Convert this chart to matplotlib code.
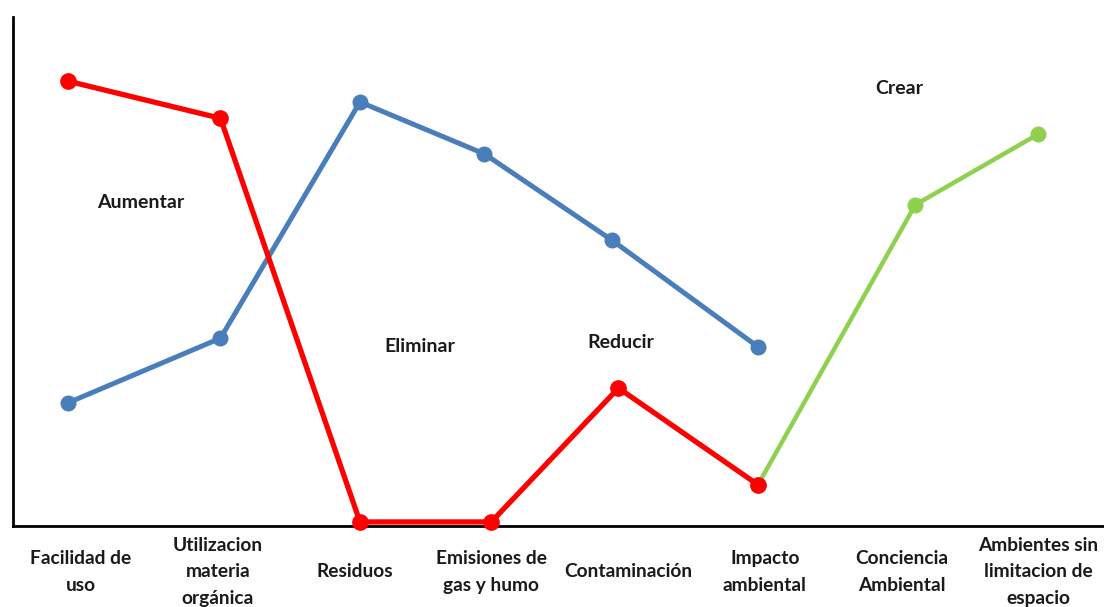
import matplotlib.pyplot as plt

# categories (evenly spaced tick positions 0..7)
categories = ["Facilidad de\nuso", "Utilizacion\nmateria\norgánica", "Residuos",
              "Emisiones de\ngas y humo", "Contaminación", "Impacto\nambiental",
              "Conciencia\nAmbiental", "Ambientes sin\nlimitacion de\nespacio"]

# series values (x in category units, y on a 0-10 scale)
red_x = [-0.095, 1.02, 2.04, 3.0, 3.93, 4.95]
red_y = [8.74, 8.01, 0.08, 0.08, 2.71, 0.81]

blue_x = [-0.095, 1.02, 2.04, 2.95, 3.88, 4.95]
blue_y = [2.42, 3.69, 8.33, 7.31, 5.62, 3.52]

green_x = [4.95, 6.10, 7.0]
green_y = [0.81, 6.31, 7.70]

labels = ["Aumentar", "Eliminar", "Reducir", "Crear"]
label_x = [0.44, 2.48, 3.95, 5.98]
label_y = [6.36, 3.52, 3.60, 8.60]


def main():
    plt.rcParams['font.family'] = ['Lato', 'DejaVu Sans']
    fig = plt.figure(figsize=(11.04, 6.07), dpi=100)
    ax = fig.add_axes([13 / 1104, 81 / 607, 1 - 13 / 1104, 509 / 607])

    ax.plot(red_x, red_y, color="#ff0000", lw=3.8, marker="o", ms=11,
            zorder=3, clip_on=False)
    ax.plot(blue_x, blue_y, color="#4a7ebb", lw=3.6, marker="o", ms=10.5,
            zorder=2, clip_on=False)
    ax.plot(green_x, green_y, color="#8fd14f", lw=3.2, marker="o", ms=10.5,
            zorder=2, clip_on=False)

    for t, x, y in zip(labels, label_x, label_y):
        ax.text(x, y, t, ha="center", va="center", fontsize=14,
                fontweight="bold", color="#1a1a1a")

    ax.set_xlim(-0.497, 7.48)
    ax.set_ylim(0, 10)
    ax.set_yticks([])
    ax.set_xticks(range(len(categories)))
    ax.set_xticklabels(categories, fontsize=13.8, fontweight="bold",
                       color="#1a1a1a", linespacing=1.7, va="center")
    ax.tick_params(axis="x", length=0, pad=33)
    for s in ["top", "right"]:
        ax.spines[s].set_visible(False)
    ax.spines["left"].set_linewidth(2)
    ax.spines["bottom"].set_linewidth(2)

    fig.savefig("out.png", dpi=100)


if __name__ == "__main__":
    main()
